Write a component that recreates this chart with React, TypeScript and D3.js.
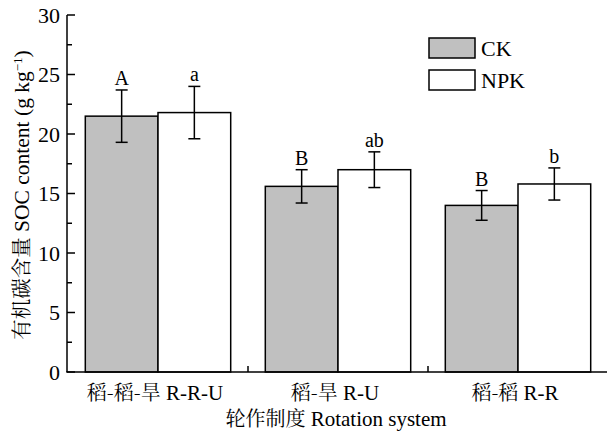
import React from "react";
import * as d3 from "d3";

const categories = ["稻-稻-旱 R-R-U", "稻-旱 R-U", "稻-稻 R-R"];
const categoryCn = ["稻-稻-旱", "稻-旱", "稻-稻"];
const categoryEn = ["R-R-U", "R-U", "R-R"];
const series = ["CK", "NPK"];
const ckValues = [21.5, 15.6, 14.0];
const npkValues = [21.8, 17.0, 15.8];
const ckErrors = [2.2, 1.4, 1.25];
const npkErrors = [2.2, 1.5, 1.35];
const ckLetters = ["A", "B", "B"];
const npkLetters = ["a", "ab", "b"];
const yTicks = [0, 5, 10, 15, 20, 25, 30];
const yMinorTicks = [2.5, 7.5, 12.5, 17.5, 22.5, 27.5];

const W = 607;
const H = 433;
const FONT = "'Liberation Serif', 'Times New Roman', serif";
const CJK = "'Noto Serif CJK SC', 'Noto Sans CJK SC', sans-serif";
const FILLS = ["#c0c0c0", "#ffffff"];

export default function App() {
  const x0 = 67;
  const xEnd = 607;
  const yTop = 15;
  const yBot = 372;
  const x = d3.scaleBand<string>().domain(categories).range([68, 608]).paddingInner(0).paddingOuter(0);
  const inner = d3.scaleBand<string>().domain(series).range([0, x.bandwidth()]).paddingOuter(0.238).paddingInner(0);
  const y = d3.scaleLinear().domain([0, 30]).range([yBot, yTop]);
  const valuesBy = [ckValues, npkValues];
  const errorsBy = [ckErrors, npkErrors];
  const lettersBy = [ckLetters, npkLetters];

  return (
    <svg width={W} height={H} style={{ display: "block", position: "absolute", left: 0, top: 0 }} fontFamily={FONT}>
      <rect width={W} height={H} fill="#fff" />
      {categories.map((c, i) =>
        series.map((s, j) => {
          const v = valuesBy[j][i];
          const e = errorsBy[j][i];
          const bx = (x(c) as number) + (inner(s) as number);
          const bw = inner.bandwidth();
          const cx = bx + bw / 2;
          return (
            <g key={c + s}>
              <rect x={bx} y={y(v)} width={bw} height={yBot - y(v)} fill={FILLS[j]} stroke="#000" strokeWidth={1.5} />
              <line x1={cx} x2={cx} y1={y(v + e)} y2={y(v - e)} stroke="#000" strokeWidth={1.5} />
              <line x1={cx - 6} x2={cx + 6} y1={y(v + e)} y2={y(v + e)} stroke="#000" strokeWidth={1.5} />
              <line x1={cx - 6} x2={cx + 6} y1={y(v - e)} y2={y(v - e)} stroke="#000" strokeWidth={1.5} />
              <text x={cx} y={y(v + e) - 5} textAnchor="middle" fontSize={20} fill="#000">
                {lettersBy[j][i]}
              </text>
            </g>
          );
        })
      )}
      {/* axes */}
      <line x1={x0} x2={x0} y1={yTop} y2={yBot} stroke="#000" strokeWidth={1.5} />
      <line x1={x0 - 0.75} x2={xEnd} y1={yBot} y2={yBot} stroke="#000" strokeWidth={1.5} />
      {yTicks.map((t) => (
        <g key={"t" + t}>
          <line x1={x0} x2={x0 + 8} y1={y(t)} y2={y(t)} stroke="#000" strokeWidth={1.5} />
          <text x={x0 - 7} y={y(t) + 7.5} textAnchor="end" fontSize={22} fill="#000">
            {t}
          </text>
        </g>
      ))}
      {yMinorTicks.map((t) => (
        <line key={"m" + t} x1={x0} x2={x0 + 5} y1={y(t)} y2={y(t)} stroke="#000" strokeWidth={1.5} />
      ))}
      {categories.slice(1).map((c) => (
        <line key={"xt" + c} x1={x(c) as number} x2={x(c) as number} y1={yBot} y2={yBot - 6} stroke="#000" strokeWidth={1.5} />
      ))}
      {categories.map((c, i) => (
        <text key={"xl" + c} x={(x(c) as number) + x.bandwidth() / 2 - 3} y={400} textAnchor="middle" fontSize={21} fill="#000">
          <tspan fontFamily={CJK} fontSize={20}>{categoryCn[i]}</tspan>
          <tspan> {categoryEn[i]}</tspan>
        </text>
      ))}
      <text x={336} y={426} textAnchor="middle" fontSize={21} fill="#000">
        <tspan fontFamily={CJK} fontSize={20}>轮作制度</tspan>
        <tspan> Rotation system</tspan>
      </text>
      <text transform="translate(29,195) rotate(-90)" textAnchor="middle" fontSize={21.5} fill="#000">
        <tspan fontFamily={CJK} fontSize={20.5}>有机碳含量</tspan>
        <tspan> SOC content (g kg</tspan>
        <tspan baselineShift="super" fontSize={13}>−1</tspan>
        <tspan>)</tspan>
      </text>
      {/* legend */}
      {series.map((s, j) => (
        <g key={"lg" + s} transform={`translate(429,${38 + j * 32})`}>
          <rect x={0} y={0} width={46} height={20} fill={FILLS[j]} stroke="#000" strokeWidth={1.5} />
          <text x={52} y={18} fontSize={22} fill="#000">
            {s}
          </text>
        </g>
      ))}
    </svg>
  );
}
